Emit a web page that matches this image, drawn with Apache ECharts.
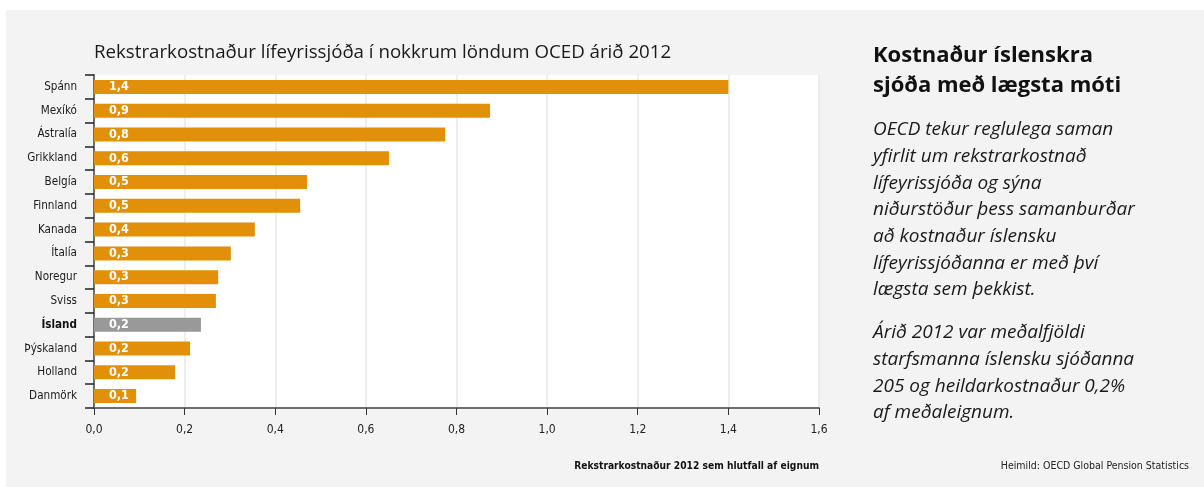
<!DOCTYPE html>
<html>
<head>
<meta charset="utf-8">
<script src="https://cdn.jsdelivr.net/npm/echarts@6/dist/echarts.min.js"></script>
<style>
html,body{margin:0;padding:0;background:#fff;}
#c{width:1204px;height:487px;}
</style>
</head>
<body>
<div id="c"></div>
<script>
var categories = ['Spánn','Mexíkó','Ástralía','Grikkland','Belgía','Finnland','Kanada','Ítalía','Noregur','Sviss','Ísland','Þýskaland','Holland','Danmörk'];
var values = [1.40, 0.874, 0.775, 0.651, 0.470, 0.455, 0.355, 0.302, 0.274, 0.269, 0.236, 0.212, 0.179, 0.093];
var barLabels = ['1,4','0,9','0,8','0,6','0,5','0,5','0,4','0,3','0,3','0,3','0,2','0,2','0,2','0,1'];
var highlight = 'Ísland';
var xTicks = [0, 0.2, 0.4, 0.6, 0.8, 1.0, 1.2, 1.4, 1.6];

var COND = '"Liberation Sans Narrow","DejaVu Sans Condensed","Roboto Condensed",sans-serif';
var SANS = '"Open Sans","Noto Sans",sans-serif';

var chart = echarts.init(document.getElementById('c'));
var para1 = ['OECD tekur reglulega saman','yfirlit um rekstrarkostnað','lífeyrissjóða og sýna','niðurstöður þess samanburðar','að kostnaður íslensku','lífeyrissjóðanna er með því','lægsta sem þekkist.'];
var para2 = ['Árið 2012 var meðalfjöldi','starfsmanna íslensku sjóðanna','205 og heildarkostnaður 0,2%','af meðaleignum.'];

var graphics = [
  {type:'rect', z:-10, silent:true, shape:{x:6,y:10,width:1198,height:477}, style:{fill:'#f3f3f3'}},
  {type:'text', left:94, top:43, style:{text:'Rekstrarkostnaður lífeyrissjóða í nokkrum löndum OCED árið 2012', font:'18.7px '+SANS, fill:'#1a1a1a'}},
  {type:'text', left:873, top:41, style:{text:'Kostnaður íslenskra\nsjóða með lægsta móti', font:'bold 22px '+SANS, lineHeight:30, fill:'#111'}},
  {type:'text', left:873, top:116.5, style:{text:para1.join('\n'), font:'italic 19px '+SANS, lineHeight:26.7, fill:'#1a1a1a'}},
  {type:'text', left:873, top:319.5, style:{text:para2.join('\n'), font:'italic 19px '+SANS, lineHeight:26.7, fill:'#1a1a1a'}},
  {type:'text', right:385, top:461, style:{text:'Rekstrarkostnaður 2012 sem hlutfall af eignum', font:'bold 10.2px '+COND, fill:'#111'}},
  {type:'text', right:15, top:461, style:{text:'Heimild: OECD Global Pension Statistics', font:'10.5px '+COND, fill:'#222'}}
];

chart.setOption({
  backgroundColor: 'transparent',
  animation: false,
  graphic: graphics,
  grid: {left:94, right:385, top:75, bottom:79, show:true, backgroundColor:'#fff', borderWidth:0},
  xAxis: {
    type:'value', min:0, max:1.6, interval:0.2,
    axisLine:{show:true, lineStyle:{color:'#6e6e6e', width:2}},
    axisTick:{show:true, length:7, lineStyle:{color:'#333', width:1}},
    splitLine:{show:true, lineStyle:{color:'#e8e8e8', width:1.5}},
    axisLabel:{margin:16, color:'#222', fontFamily:COND, fontSize:12,
      formatter:function(v){ return (Math.round(v*10)/10).toFixed(1).replace('.',','); }}
  },
  yAxis: {
    type:'category', data:categories, inverse:true,
    axisLine:{show:true, lineStyle:{color:'#6e6e6e', width:2}},
    axisTick:{show:true, length:9, lineStyle:{color:'#222', width:1.5}},
    axisLabel:{margin:17, color:'#1a1a1a', fontFamily:COND, fontSize:11.6,
      formatter:function(v){ return v===highlight ? '{b|'+v+'}' : v; },
      rich:{b:{fontWeight:'bold', fontFamily:COND, fontSize:11.6, color:'#111'}}}
  },
  series: [{
    type:'bar',
    barCategoryGap:'41%',
    data: values.map(function(v,i){
      return {value:v, itemStyle:{color: categories[i]===highlight ? '#999999' : '#e2900a'}};
    }),
    label:{show:true, position:'insideLeft', distance:15, color:'#fff', fontFamily:COND, fontSize:12.5, fontWeight:'bold',
      formatter:function(p){ return barLabels[p.dataIndex]; }}
  }]
});
</script>
</body>
</html>
